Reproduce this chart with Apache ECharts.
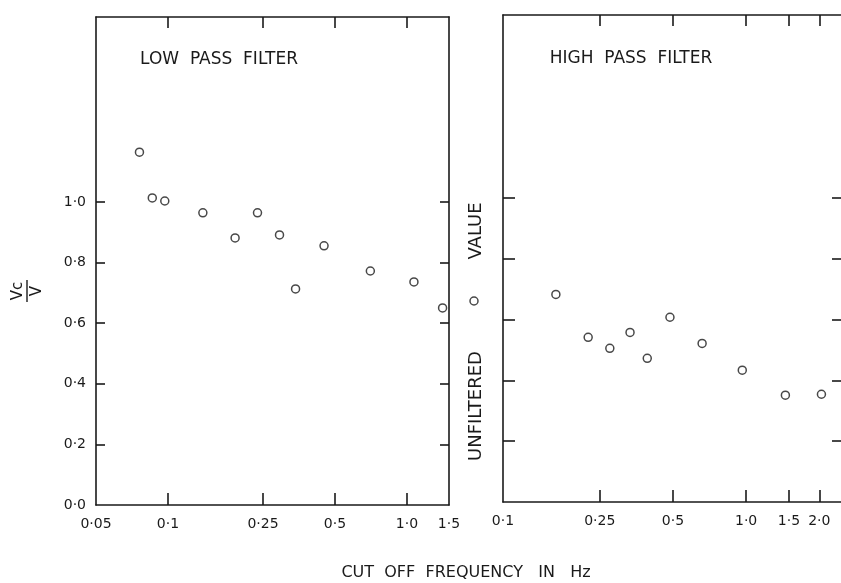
<!DOCTYPE html>
<html>
<head>
<meta charset="utf-8">
<script src="https://cdn.jsdelivr.net/npm/echarts@6/dist/echarts.min.js"></script>
<style>html,body{margin:0;padding:0;background:#fff}#c{width:841px;height:583px}</style>
</head>
<body>
<div id="c"></div>
<script>
// ---- data ----
const lowFreq = [0.076, 0.086, 0.097, 0.140, 0.191, 0.237, 0.293, 0.342, 0.450, 0.703, 1.07, 1.41];
const lowRatio = [1.164, 1.013, 1.003, 0.964, 0.881, 0.964, 0.891, 0.713, 0.855, 0.772, 0.736, 0.650];
const highFreq = [0.165, 0.224, 0.275, 0.333, 0.392, 0.486, 0.659, 0.964, 1.45, 2.04];
const highRatio = [0.682, 0.541, 0.505, 0.557, 0.472, 0.607, 0.521, 0.433, 0.351, 0.354];
const unfilteredValue = [0.673];
const lowTickValues = [0.05, 0.1, 0.25, 0.5, 1.0, 1.5];
const lowTickLabels = ['0·05', '0·1', '0·25', '0·5', '1·0', '1·5'];
const highTickValues = [0.1, 0.25, 0.5, 1.0, 1.5, 2.0];
const highTickLabels = ['0·1', '0·25', '0·5', '1·0', '1·5', '2·0'];
const yTickValues = [0, 0.2, 0.4, 0.6, 0.8, 1.0];
const yTickLabels = ['0·0', '0·2', '0·4', '0·6', '0·8', '1·0'];

// ---- build ----
const FONT = 'DejaVu Sans';
const INK = '#1a1a1a';
const lg = Math.log10;
function labelFor(vals, labels) {
  return function (v) {
    for (let i = 0; i < vals.length; i++) if (Math.abs(lg(vals[i]) - v) < 1e-6) return labels[i];
    return '';
  };
}
function yLabelFor(v) {
  for (let i = 0; i < yTickValues.length; i++) if (Math.abs(yTickValues[i] - v) < 1e-6) return yTickLabels[i];
  return '';
}
const lineStyle = { color: INK, width: 1.6 };
const yInnerTicks = yTickValues.filter(v => v > 0);

function xAxes(gridIndex, tickVals, labelVals, labels, minV, maxV, tickLen) {
  const min = lg(minV), max = lg(maxV);
  return [
    {
      type: 'value', gridIndex, position: 'bottom', min, max,
      axisLine: { show: true, onZero: false, lineStyle },
      splitLine: { show: false },
      axisTick: { show: true, inside: true, length: tickLen, lineStyle, customValues: tickVals.map(lg) },
      axisLabel: { show: true, margin: 12, fontFamily: FONT, fontSize: 14, color: INK,
        customValues: labelVals.map(lg), formatter: labelFor(labelVals, labels) }
    },
    {
      type: 'value', gridIndex, position: 'top', min, max,
      axisLine: { show: true, onZero: false, lineStyle },
      splitLine: { show: false },
      axisTick: { show: true, inside: true, length: 11, lineStyle, customValues: tickVals.map(lg) },
      axisLabel: { show: false }
    }
  ];
}
function yAxes(gridIndex, maxV, showLabels, leftTickLen, rightTickLen) {
  return [
    {
      type: 'value', gridIndex, position: 'left', min: 0, max: maxV,
      axisLine: { show: true, onZero: false, lineStyle },
      splitLine: { show: false },
      axisTick: { show: true, inside: true, length: leftTickLen, lineStyle, customValues: yInnerTicks },
      axisLabel: { show: showLabels, margin: 10, fontFamily: FONT, fontSize: 14, color: INK,
        customValues: yTickValues, formatter: yLabelFor }
    },
    {
      type: 'value', gridIndex, position: 'right', min: 0, max: maxV,
      axisLine: { show: true, onZero: false, lineStyle },
      splitLine: { show: false },
      axisTick: { show: true, inside: true, length: rightTickLen, lineStyle, customValues: yInnerTicks },
      axisLabel: { show: false }
    }
  ];
}

const markerStyle = { color: '#fff', borderColor: INK, borderWidth: 1.5 };

const option = {
  animation: false,
  backgroundColor: '#fff',
  grid: [
    { left: 96, top: 17, width: 353, height: 488, outerBoundsMode: 'none', containLabel: false },
    { left: 503, top: 15, width: 342, height: 487, outerBoundsMode: 'none', containLabel: false },
    { left: 466, top: 17, width: 16, height: 488, outerBoundsMode: 'none', containLabel: false }
  ],
  xAxis: [
    ...xAxes(0, [0.1, 0.25, 0.5, 1.0], lowTickValues, lowTickLabels, 0.05, 1.5, 12),
    ...xAxes(1, [0.25, 0.5, 1.0, 1.5, 2.0], highTickValues, highTickLabels, 0.1, 2.55, 12),
    { type: 'category', gridIndex: 2, data: ['u'], show: false }
  ],
  yAxis: [
    ...yAxes(0, 1.61, true, 9, 9),
    ...yAxes(1, 1.6, false, 12, 13),
    { type: 'value', gridIndex: 2, min: 0, max: 1.61, show: false }
  ],
  series: [
    { type: 'scatter', xAxisIndex: 0, yAxisIndex: 0, symbol: 'circle', symbolSize: 8, silent: true,
      itemStyle: markerStyle, data: lowFreq.map((f, i) => [lg(f), lowRatio[i]]) },
    { type: 'scatter', xAxisIndex: 2, yAxisIndex: 2, symbol: 'circle', symbolSize: 8, silent: true,
      itemStyle: markerStyle, data: highFreq.map((f, i) => [lg(f), highRatio[i]]) },
    { type: 'scatter', xAxisIndex: 4, yAxisIndex: 4, symbol: 'circle', symbolSize: 8, silent: true,
      itemStyle: markerStyle, data: unfilteredValue.map(v => ['u', v]) }
  ],
  graphic: [
    { type: 'text', x: 219, y: 60, silent: true,
      style: { text: 'LOW  PASS  FILTER', fontFamily: FONT, fontSize: 17, fill: INK, align: 'center', verticalAlign: 'middle' } },
    { type: 'text', x: 631, y: 59, silent: true,
      style: { text: 'HIGH  PASS  FILTER', fontFamily: FONT, fontSize: 17, fill: INK, align: 'center', verticalAlign: 'middle' } },
    { type: 'text', x: 466, y: 573, silent: true,
      style: { text: 'CUT  OFF  FREQUENCY   IN   Hz', fontFamily: FONT, fontSize: 16, fill: INK, align: 'center', verticalAlign: 'middle' } },
    { type: 'text', x: 476, y: 231, rotation: Math.PI / 2, silent: true,
      style: { text: 'VALUE', fontFamily: FONT, fontSize: 18, fill: INK, align: 'center', verticalAlign: 'middle' } },
    { type: 'text', x: 476, y: 406, rotation: Math.PI / 2, silent: true,
      style: { text: 'UNFILTERED', fontFamily: FONT, fontSize: 18, fill: INK, align: 'center', verticalAlign: 'middle' } },
    { type: 'group', x: 27, y: 291, rotation: Math.PI / 2, silent: true,
      children: [
        { type: 'text', x: 0, y: -9, style: { text: 'Vc', fontFamily: FONT, fontSize: 15, fill: INK, align: 'center', verticalAlign: 'middle' } },
        { type: 'line', shape: { x1: -11, y1: 0, x2: 11, y2: 0 }, style: { stroke: INK, lineWidth: 1.4 } },
        { type: 'text', x: 0, y: 10, style: { text: 'V', fontFamily: FONT, fontSize: 15, fill: INK, align: 'center', verticalAlign: 'middle' } }
      ] }
  ]
};

const chart = echarts.init(document.getElementById('c'), null, { renderer: 'canvas' });
chart.setOption(option);
</script>
</body>
</html>
